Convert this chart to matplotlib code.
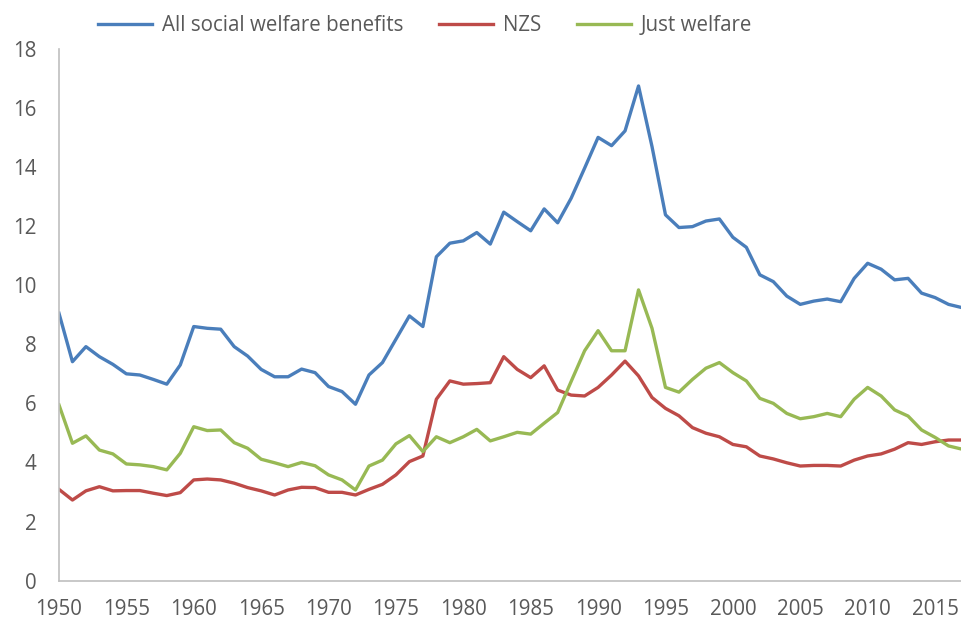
import matplotlib.pyplot as plt
import numpy as np

# share of benefit spending, 1950-2017
years = np.arange(1950, 2018)

all_welfare = [9.05, 7.41, 7.92, 7.58, 7.32, 7.00, 6.96, 6.81, 6.65, 7.30,
               8.60, 8.54, 8.51, 7.92, 7.60, 7.15, 6.90, 6.90, 7.16, 7.04,
               6.57, 6.40, 5.97, 6.96, 7.38, 8.17, 8.96, 8.60, 10.96, 11.42,
               11.50, 11.78, 11.39, 12.47, 12.15, 11.84, 12.58, 12.11, 12.94, 13.96,
               15.00, 14.72, 15.22, 16.74, 14.69, 12.38, 11.95, 11.98, 12.17, 12.24,
               11.62, 11.28, 10.35, 10.12, 9.63, 9.35, 9.46, 9.53, 9.44, 10.23,
               10.74, 10.54, 10.18, 10.23, 9.73, 9.58, 9.35, 9.24]

nzs = [3.09, 2.73, 3.04, 3.18, 3.04, 3.05, 3.05, 2.96, 2.88, 2.98,
       3.41, 3.44, 3.41, 3.30, 3.15, 3.04, 2.90, 3.07, 3.16, 3.15,
       2.99, 2.99, 2.90, 3.09, 3.26, 3.58, 4.03, 4.22, 6.14, 6.76,
       6.65, 6.67, 6.70, 7.58, 7.15, 6.87, 7.27, 6.45, 6.28, 6.25,
       6.54, 6.96, 7.43, 6.93, 6.20, 5.83, 5.58, 5.18, 4.99, 4.87,
       4.61, 4.53, 4.22, 4.12, 3.99, 3.88, 3.90, 3.90, 3.88, 4.08,
       4.22, 4.29, 4.45, 4.67, 4.61, 4.70, 4.76, 4.76]

just_welfare = [5.95, 4.65, 4.90, 4.42, 4.29, 3.95, 3.92, 3.86, 3.75, 4.31,
                5.21, 5.08, 5.10, 4.67, 4.48, 4.11, 3.99, 3.86, 4.00, 3.89,
                3.58, 3.41, 3.07, 3.88, 4.08, 4.63, 4.91, 4.37, 4.87, 4.67,
                4.87, 5.12, 4.73, 4.87, 5.02, 4.96, 5.33, 5.69, 6.74, 7.78,
                8.46, 7.78, 7.78, 9.84, 8.54, 6.54, 6.38, 6.81, 7.19, 7.38,
                7.04, 6.76, 6.17, 6.00, 5.66, 5.48, 5.55, 5.66, 5.55, 6.14,
                6.54, 6.25, 5.78, 5.57, 5.10, 4.85, 4.56, 4.45]

plt.rcParams['font.family'] = ['Open Sans', 'DejaVu Sans']

fig = plt.figure(figsize=(9.62, 6.2), dpi=100)
ax = fig.add_axes([0.0613, 0.0634, 0.9387, 0.858])

ax.plot(years, all_welfare, color='#4a7ebb', lw=2.4, label='All social welfare benefits')
ax.plot(years, nzs, color='#be4b48', lw=2.4, label='NZS')
ax.plot(years, just_welfare, color='#98b954', lw=2.4, label='Just welfare')

ax.set_xlim(1950, 2017)
ax.set_ylim(0, 18)
ax.set_xticks(np.arange(1950, 2016, 5))
ax.set_yticks(np.arange(0, 19, 2))

for side in ['top', 'right']:
    ax.spines[side].set_visible(False)
for side in ['left', 'bottom']:
    ax.spines[side].set_color('#bfbfbf')
    ax.spines[side].set_linewidth(1.2)

ax.tick_params(axis='both', length=0, labelsize=14.8, colors='#595959')
ax.tick_params(axis='x', pad=13)
ax.tick_params(axis='y', pad=16)

fig.legend(loc='center', bbox_to_anchor=(0.442, 0.959), ncol=3, frameon=False,
           fontsize=14.8, handlelength=2.6, columnspacing=1.75, handletextpad=0.5,
           labelcolor='#595959')

fig.savefig('out.png', dpi=100)
